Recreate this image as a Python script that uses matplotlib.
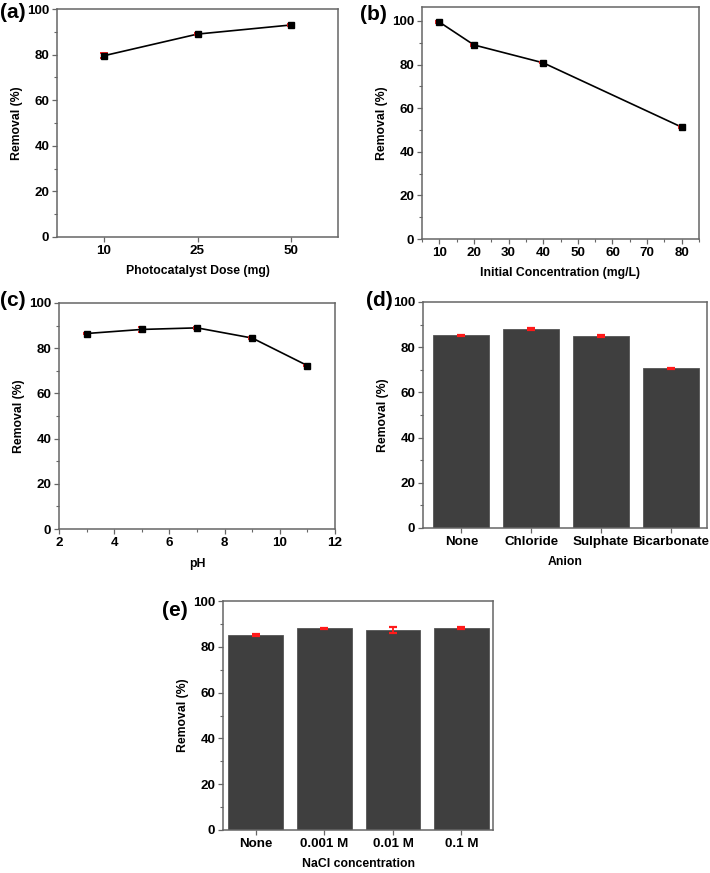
import numpy as np
import matplotlib
matplotlib.use('Agg')
from matplotlib import pyplot as plt
from matplotlib.ticker import MultipleLocator

plt.rcParams['font.family'] = ['Liberation Sans', 'DejaVu Sans']
plt.rcParams['font.weight'] = 'bold'
plt.rcParams['axes.labelweight'] = 'bold'

# (a) photocatalyst dose
dose_labels = ['10', '25', '50']
dose_removal = [79.5, 89.0, 93.0]
dose_err = [1.0, 0.3, 0.3]

# (b) initial concentration
conc = [10, 20, 40, 80]
conc_removal = [99.5, 89.0, 80.8, 51.3]
conc_err = [0.3, 0.5, 0.3, 0.4]

# (c) pH
ph = [3, 5, 7, 9, 11]
ph_removal = [86.5, 88.3, 89.0, 84.5, 72.3]
ph_err = [0.3, 1.3, 0.6, 0.5, 0.3]

# (d) anions
anions = ['None', 'Chloride', 'Sulphate', 'Bicarbonate']
anion_removal = [85.3, 88.0, 85.0, 70.7]
anion_err = [0.3, 0.5, 0.5, 0.3]

# (e) NaCl concentration
nacl = ['None', '0.001 M', '0.01 M', '0.1 M']
nacl_removal = [85.2, 88.0, 87.3, 88.2]
nacl_err = [0.3, 0.2, 1.2, 0.4]

W, H = 710, 873
fig = plt.figure(figsize=(W / 100, H / 100), dpi=100)


def px_axes(left, top, right, bottom):
    return fig.add_axes([left / W, 1 - bottom / H, (right - left) / W, (bottom - top) / H])


frame = '#666666'
bar_color = '#3f3f3f'


def style(ax):
    for s in ax.spines.values():
        s.set_color(frame)
        s.set_linewidth(1.1)
    ax.tick_params(axis='both', which='major', direction='out', length=3.5,
                   width=0.9, color=frame, labelsize=9.6, pad=2)
    ax.tick_params(axis='both', which='minor', direction='out', length=2,
                   width=0.8, color=frame)
    ax.yaxis.set_minor_locator(MultipleLocator(10))
    ax.set_ylabel('Removal (%)', fontsize=8.8, labelpad=3)
    for lab in ax.get_xticklabels() + ax.get_yticklabels():
        lab.set_fontweight('bold')


def line_panel(ax, x, y, err):
    ax.plot(x, y, color='black', lw=1.2, zorder=2)
    ax.errorbar(x, y, yerr=err, fmt='none', ecolor='#ff2020', elinewidth=1.3,
                capsize=2.8, capthick=1.4, zorder=3)
    ax.plot(x, y, 's', color='black', ms=4, zorder=4)


def bar_panel(ax, labels, y, err):
    x = np.arange(len(labels))
    ax.bar(x, y, width=0.8, color=bar_color, edgecolor='#555555', lw=0.6, zorder=2)
    ax.errorbar(x, y, yerr=err, fmt='none', ecolor='#ff1a1a', elinewidth=1.3,
                capsize=3, capthick=1.6, zorder=3)
    ax.set_xticks(x)
    ax.set_xticklabels(labels)


# (a)
ax = px_axes(57, 9, 338, 237)
xa = np.arange(len(dose_labels))
line_panel(ax, xa, dose_removal, dose_err)
ax.set_xticks(xa)
ax.set_xticklabels(dose_labels)
ax.set_xlim(-0.5, 2.5)
ax.set_ylim(0, 100)
ax.yaxis.set_major_locator(MultipleLocator(20))
style(ax)
ax.set_xlabel('Photocatalyst Dose (mg)', fontsize=8.8, labelpad=6)
fig.text(0 / W, 1 - 12 / H, '(a)', fontsize=15, fontweight='bold', va='center')

# (b)
ax = px_axes(422, 7, 699, 239)
line_panel(ax, conc, conc_removal, conc_err)
ax.set_xlim(5, 85)
ax.set_ylim(0, 106.4)
ax.xaxis.set_major_locator(MultipleLocator(10))
ax.xaxis.set_minor_locator(MultipleLocator(5))
ax.yaxis.set_major_locator(MultipleLocator(20))
style(ax)
ax.set_xlabel('Initial Concentration (mg/L)', fontsize=8.8, labelpad=6)
fig.text(360 / W, 1 - 14 / H, '(b)', fontsize=15, fontweight='bold', va='center')

# (c)
ax = px_axes(59, 303, 335, 529)
line_panel(ax, ph, ph_removal, ph_err)
ax.set_xlim(2, 12)
ax.set_ylim(0, 100)
ax.xaxis.set_major_locator(MultipleLocator(2))
ax.xaxis.set_minor_locator(MultipleLocator(1))
ax.yaxis.set_major_locator(MultipleLocator(20))
style(ax)
ax.set_xlabel('pH', fontsize=8.8, labelpad=7)
fig.text(0 / W, 1 - 300 / H, '(c)', fontsize=15, fontweight='bold', va='center')

# (d)
ax = px_axes(423, 302, 707, 528)
bar_panel(ax, anions, anion_removal, anion_err)
ax.set_xlim(-0.55, 3.52)
ax.set_ylim(0, 100)
ax.yaxis.set_major_locator(MultipleLocator(20))
style(ax)
ax.set_xlabel('Anion', fontsize=8.8, labelpad=6)
fig.text(366 / W, 1 - 301 / H, '(d)', fontsize=15, fontweight='bold', va='center')

# (e)
ax = px_axes(223, 601, 493, 830)
bar_panel(ax, nacl, nacl_removal, nacl_err)
ax.set_xlim(-0.48, 3.46)
ax.set_ylim(0, 100)
ax.yaxis.set_major_locator(MultipleLocator(20))
style(ax)
ax.set_xlabel('NaCl concentration', fontsize=8.8, labelpad=6)
fig.text(162 / W, 1 - 610 / H, '(e)', fontsize=15, fontweight='bold', va='center')

fig.savefig('out.png', dpi=100)
